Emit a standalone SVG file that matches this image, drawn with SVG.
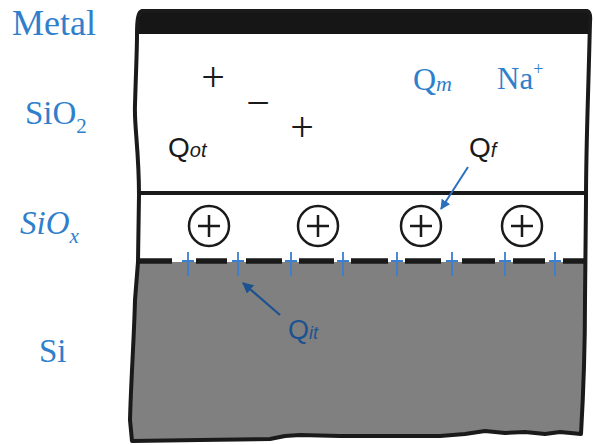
<svg xmlns="http://www.w3.org/2000/svg" width="595" height="445" viewBox="0 0 595 445">
<style>
.lbl{font-family:"Liberation Serif","DejaVu Serif","Noto Serif",serif;fill:#2f7fcc}
.blk{font-family:"Liberation Serif","DejaVu Serif",serif;fill:#1a1a1a}
.q{font-family:"Liberation Sans",Arial,sans-serif}
.ion{fill:none;stroke:#1a1a1a;stroke-width:2.5}
.dash{stroke:#1a1a1a;stroke-width:5.5}
.bp{stroke:#3a7fd0;stroke-width:1.8}
</style>
<defs>
<clipPath id="body"><path d="M142 11 L587 11 Q591 12 590 22 L589 60 C588 100 586 150 586 200 L585 300 C585 360 583 400 581 434 L560 432 L545 434 L525 432 L505 433 L485 431 L465 434 L440 436 L400 436 L340 436 L300 435 L285 436 L270 439 L200 440 L132 441 L130 420 C131 380 134 340 135 300 L138 262 L139 195 C139 150 134 125 135 105 C136 70 137 50 137 35 C137 20 138 12 142 11 Z"/></clipPath>
<marker id="ah" viewBox="0 0 10 10" refX="9" refY="5" markerWidth="5" markerHeight="5" orient="auto"><path d="M0 0 L10 5 L0 10 Z" fill="#2a6fc0"/></marker>
<marker id="ah2" viewBox="0 0 10 10" refX="9" refY="5" markerWidth="5" markerHeight="5" orient="auto"><path d="M0 0 L10 5 L0 10 Z" fill="#1d5290"/></marker>
</defs>
<g id="layers">
<path d="M142 11 L587 11 Q591 12 590 22 L589 60 C588 100 586 150 586 200 L585 300 C585 360 583 400 581 434 L560 432 L545 434 L525 432 L505 433 L485 431 L465 434 L440 436 L400 436 L340 436 L300 435 L285 436 L270 439 L200 440 L132 441 L130 420 C131 380 134 340 135 300 L138 262 L139 195 C139 150 134 125 135 105 C136 70 137 50 137 35 C137 20 138 12 142 11 Z" fill="#ffffff"/>
<g clip-path="url(#body)">
<rect id="metal" x="120" y="5" width="480" height="29" fill="#161616"/>
<rect id="si" x="120" y="262" width="480" height="190" fill="#808080"/>
<line x1="120" y1="193" x2="600" y2="193" stroke="#1a1a1a" stroke-width="4"/>
</g>
<path d="M142 11 L587 11 Q591 12 590 22 L589 60 C588 100 586 150 586 200 L585 300 C585 360 583 400 581 434 L560 432 L545 434 L525 432 L505 433 L485 431 L465 434 L440 436 L400 436 L340 436 L300 435 L285 436 L270 439 L200 440 L132 441 L130 420 C131 380 134 340 135 300 L138 262 L139 195 C139 150 134 125 135 105 C136 70 137 50 137 35 C137 20 138 12 142 11 Z" fill="none" stroke="#1a1a1a" stroke-width="4" stroke-linejoin="round"/>
</g>
<g id="interface">
<path class="dash" d="M139 261 H172 M196 261 H227 M246 261 H282 M299 261 H334 M351 261 H388 M405 261 H441 M462 261 H495 M513 261 H545 M563 261 H585"/>
<path class="bp" d="M188 252 V276 M182 261 H194 M238 252 V276 M232 261 H244 M291 252 V276 M285 261 H297 M343 252 V276 M337 261 H349 M397 252 V276 M391 261 H403 M452 252 V276 M446 261 H458 M505 252 V276 M499 261 H511 M555 252 V276 M549 261 H561"/>
</g>
<g id="fixed-charges">
<g id="ion1"><circle class="ion" cx="209" cy="226" r="20"/><path class="ion" d="M198 226 H220 M209 215 V237"/></g>
<g id="ion2"><circle class="ion" cx="318" cy="226" r="20"/><path class="ion" d="M307 226 H329 M318 215 V237"/></g>
<g id="ion3"><circle class="ion" cx="421" cy="226" r="20"/><path class="ion" d="M410 226 H432 M421 215 V237"/></g>
<g id="ion4"><circle class="ion" cx="522" cy="226" r="20"/><path class="ion" d="M511 226 H533 M522 215 V237"/></g>
</g>
<g id="oxide-charges">
<text class="blk" x="213" y="91" text-anchor="middle" style="font-size:42px">+</text>
<text class="blk" x="258" y="117" text-anchor="middle" style="font-size:42px">−</text>
<text class="blk" x="302" y="141" text-anchor="middle" style="font-size:42px">+</text>
</g>
<g id="labels">
<text class="lbl" x="12" y="35" style="font-size:36px">Metal</text>
<text class="lbl" x="25" y="124" style="font-size:33px">SiO<tspan dy="9" style="font-size:21px">2</tspan></text>
<text class="lbl" x="20" y="234" style="font-size:33px;font-style:italic">SiO<tspan dy="9" style="font-size:21px">x</tspan></text>
<text class="lbl" x="39" y="362" style="font-size:33px">Si</text>
<text id="Qot" class="q" x="168" y="157" fill="#1a1a1a" style="font-size:28px">Q<tspan style="font-size:20px;font-style:italic">ot</tspan></text>
<text id="Qm" class="lbl" x="413" y="90" style="font-size:32px">Q<tspan dy="1" style="font-size:22px;font-style:italic">m</tspan></text>
<text id="Na" class="lbl" x="497" y="89" style="font-size:31px">Na<tspan dy="-14" style="font-size:18px">+</tspan></text>
<text id="Qf" class="q" x="469" y="157" fill="#1a1a1a" style="font-size:28px">Q<tspan style="font-size:20px;font-style:italic">f</tspan></text>
<text id="Qit" class="q" x="288" y="339" fill="#1d5290" style="font-size:27px">Q<tspan style="font-size:18px;font-style:italic">it</tspan></text>
</g>
<g id="connectors">
<line x1="468" y1="167" x2="441" y2="209" stroke="#2a6fc0" stroke-width="2" marker-end="url(#ah)"/>
<line x1="280" y1="315" x2="243" y2="283" stroke="#1d5290" stroke-width="2.2" marker-end="url(#ah2)"/>
</g>
</svg>
